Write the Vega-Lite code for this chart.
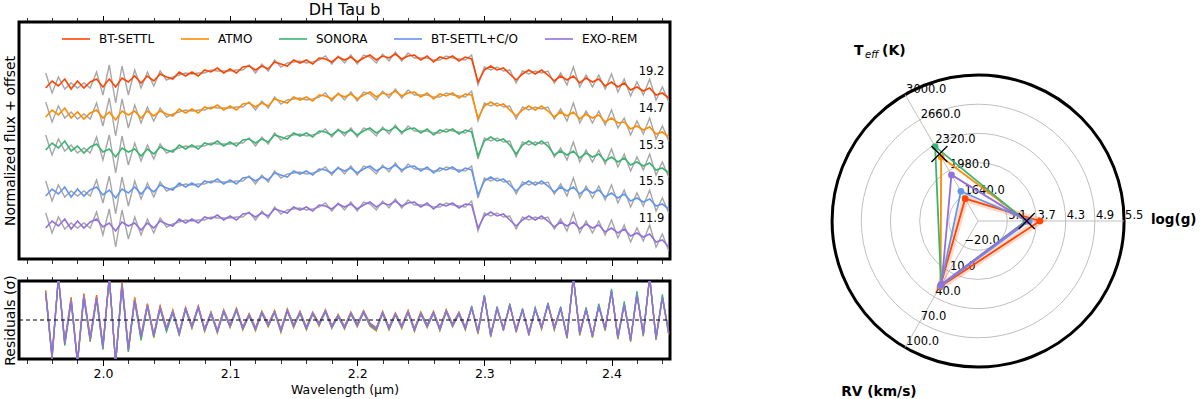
{
"$schema":"https://vega.github.io/schema/vega-lite/v6.json",
"padding":{"left":1,"top":0,"right":0,"bottom":0},
"config":{"font":"DejaVu Sans","view":{"stroke":"black","strokeWidth":3},
"axis":{"grid":false,"domain":false,"tickColor":"black","labelColor":"black","titleColor":"black","titleFontWeight":"normal","labelFont":"DejaVu Sans","titleFont":"DejaVu Sans"},
"text":{"color":"black","font":"DejaVu Sans"},"title":{"font":"DejaVu Sans","color":"black"}},
"datasets":{
"models":[{"k":"a","model":"BT-SETTL"},{"k":"b","model":"ATMO"},{"k":"c","model":"SONORA"},{"k":"d","model":"BT-SETTL+C/O"},{"k":"e","model":"EXO-REM"}],
"spec":[
{"w":1.955,"a":17.1,"b":14.2,"c":10.9,"d":6.3,"e":3.1,"ga":18.6,"gb":15.7,"gc":12.4,"gd":7.8,"ge":4.6},
{"w":1.96,"a":17.8,"b":14.9,"c":11.6,"d":7.0,"e":3.8,"ga":16.6,"gb":13.7,"gc":10.4,"gd":5.8,"ge":2.6},
{"w":1.965,"a":17.3,"b":14.4,"c":11.1,"d":6.5,"e":3.3,"ga":18.2,"gb":15.3,"gc":12.0,"gd":7.4,"ge":4.2},
{"w":1.97,"a":18.0,"b":15.1,"c":11.8,"d":7.2,"e":4.0,"ga":17.0,"gb":14.1,"gc":10.8,"gd":6.2,"ge":3.0},
{"w":1.975,"a":17.0,"b":14.1,"c":10.8,"d":6.2,"e":3.0,"ga":17.6,"gb":14.7,"gc":11.4,"gd":6.8,"ge":3.6},
{"w":1.98,"a":17.8,"b":14.7,"c":11.3,"d":7.0,"e":3.8,"ga":17.1,"gb":14.0,"gc":10.6,"gd":6.3,"ge":3.1},
{"w":1.985,"a":17.1,"b":14.0,"c":10.6,"d":6.3,"e":3.1,"ga":17.6,"gb":14.5,"gc":11.1,"gd":6.8,"ge":3.6},
{"w":1.99,"a":17.7,"b":14.6,"c":11.2,"d":6.9,"e":3.7,"ga":17.1,"gb":14.0,"gc":10.6,"gd":6.3,"ge":3.1},
{"w":1.995,"a":18.0,"b":14.9,"c":11.5,"d":7.2,"e":4.0,"ga":18.7,"gb":15.6,"gc":12.2,"gd":7.9,"ge":4.7},
{"w":2.0,"a":17.2,"b":14.1,"c":10.7,"d":6.4,"e":3.2,"ga":16.4,"gb":13.3,"gc":9.9,"gd":5.6,"ge":2.4},
{"w":2.005,"a":18.0,"b":14.7,"c":11.0,"d":6.9,"e":3.6,"ga":19.4,"gb":16.1,"gc":12.4,"gd":8.3,"ge":5.0},
{"w":2.01,"a":17.2,"b":13.9,"c":10.2,"d":6.1,"e":2.8,"ga":15.6,"gb":12.3,"gc":8.6,"gd":4.5,"ge":1.2},
{"w":2.015,"a":18.1,"b":14.8,"c":11.1,"d":7.0,"e":3.7,"ga":19.3,"gb":16.0,"gc":12.3,"gd":8.2,"ge":4.9},
{"w":2.02,"a":17.7,"b":14.4,"c":10.7,"d":6.6,"e":3.3,"ga":16.4,"gb":13.1,"gc":9.4,"gd":5.3,"ge":2.0},
{"w":2.025,"a":18.3,"b":14.8,"c":11.0,"d":7.2,"e":3.6,"ga":18.9,"gb":15.4,"gc":11.6,"gd":7.8,"ge":4.2},
{"w":2.03,"a":17.6,"b":14.1,"c":10.3,"d":6.5,"e":2.9,"ga":17.1,"gb":13.6,"gc":9.8,"gd":6.0,"ge":2.4},
{"w":2.035,"a":18.3,"b":14.8,"c":11.0,"d":7.2,"e":3.6,"ga":18.7,"gb":15.2,"gc":11.4,"gd":7.6,"ge":4.0},
{"w":2.04,"a":17.8,"b":14.3,"c":10.5,"d":6.7,"e":3.1,"ga":17.3,"gb":13.8,"gc":10.0,"gd":6.2,"ge":2.6},
{"w":2.045,"a":18.5,"b":14.8,"c":11.2,"d":7.4,"e":3.8,"ga":18.8,"gb":15.1,"gc":11.5,"gd":7.7,"ge":4.1},
{"w":2.05,"a":18.2,"b":14.5,"c":10.9,"d":7.1,"e":3.5,"ga":17.9,"gb":14.2,"gc":10.6,"gd":6.8,"ge":3.2},
{"w":2.055,"a":18.0,"b":14.3,"c":10.7,"d":6.9,"e":3.3,"ga":18.2,"gb":14.5,"gc":10.9,"gd":7.1,"ge":3.5},
{"w":2.06,"a":18.7,"b":15.0,"c":11.4,"d":7.6,"e":4.0,"ga":18.4,"gb":14.7,"gc":11.1,"gd":7.3,"ge":3.7},
{"w":2.065,"a":18.3,"b":14.6,"c":11.0,"d":7.2,"e":3.6,"ga":18.6,"gb":14.9,"gc":11.3,"gd":7.5,"ge":3.9},
{"w":2.07,"a":18.7,"b":15.0,"c":11.4,"d":7.6,"e":4.0,"ga":18.5,"gb":14.8,"gc":11.2,"gd":7.4,"ge":3.8},
{"w":2.075,"a":18.3,"b":14.6,"c":11.0,"d":7.2,"e":3.6,"ga":18.6,"gb":14.9,"gc":11.3,"gd":7.5,"ge":3.9},
{"w":2.08,"a":18.9,"b":15.2,"c":11.6,"d":7.8,"e":4.2,"ga":18.6,"gb":14.9,"gc":11.3,"gd":7.5,"ge":3.9},
{"w":2.085,"a":18.7,"b":15.0,"c":11.4,"d":7.6,"e":4.0,"ga":18.9,"gb":15.2,"gc":11.6,"gd":7.8,"ge":4.2},
{"w":2.09,"a":19.1,"b":15.4,"c":11.8,"d":8.0,"e":4.4,"ga":18.8,"gb":15.1,"gc":11.5,"gd":7.7,"ge":4.1},
{"w":2.095,"a":18.6,"b":14.9,"c":11.3,"d":7.5,"e":3.9,"ga":18.8,"gb":15.1,"gc":11.5,"gd":7.7,"ge":4.1},
{"w":2.1,"a":19.0,"b":15.3,"c":11.7,"d":7.9,"e":4.3,"ga":18.8,"gb":15.1,"gc":11.5,"gd":7.7,"ge":4.1},
{"w":2.105,"a":18.6,"b":14.9,"c":11.3,"d":7.5,"e":3.9,"ga":18.9,"gb":15.2,"gc":11.6,"gd":7.8,"ge":4.2},
{"w":2.11,"a":19.2,"b":15.5,"c":11.9,"d":8.1,"e":4.5,"ga":18.9,"gb":15.2,"gc":11.6,"gd":7.8,"ge":4.2},
{"w":2.115,"a":19.3,"b":15.6,"c":12.0,"d":8.2,"e":4.6,"ga":19.4,"gb":15.7,"gc":12.1,"gd":8.3,"ge":4.7},
{"w":2.12,"a":18.9,"b":15.2,"c":11.6,"d":7.8,"e":4.2,"ga":18.6,"gb":14.9,"gc":11.3,"gd":7.5,"ge":3.9},
{"w":2.125,"a":19.3,"b":15.6,"c":12.0,"d":8.2,"e":4.6,"ga":19.5,"gb":15.8,"gc":12.2,"gd":8.4,"ge":4.8},
{"w":2.13,"a":19.0,"b":15.3,"c":11.7,"d":7.9,"e":4.3,"ga":18.8,"gb":15.1,"gc":11.5,"gd":7.7,"ge":4.1},
{"w":2.135,"a":19.7,"b":16.0,"c":12.4,"d":8.6,"e":5.0,"ga":19.9,"gb":16.2,"gc":12.6,"gd":8.8,"ge":5.2},
{"w":2.14,"a":19.5,"b":15.8,"c":12.2,"d":8.4,"e":4.8,"ga":19.2,"gb":15.5,"gc":11.9,"gd":8.1,"ge":4.5},
{"w":2.145,"a":19.3,"b":15.6,"c":12.0,"d":8.2,"e":4.6,"ga":19.6,"gb":15.9,"gc":12.3,"gd":8.5,"ge":4.9},
{"w":2.15,"a":19.9,"b":16.2,"c":12.6,"d":8.8,"e":5.2,"ga":19.7,"gb":16.0,"gc":12.4,"gd":8.6,"ge":5.0},
{"w":2.155,"a":19.6,"b":15.9,"c":12.3,"d":8.5,"e":4.9,"ga":19.8,"gb":16.1,"gc":12.5,"gd":8.7,"ge":5.1},
{"w":2.16,"a":19.9,"b":16.2,"c":12.6,"d":8.8,"e":5.2,"ga":19.6,"gb":15.9,"gc":12.3,"gd":8.5,"ge":4.9},
{"w":2.165,"a":19.5,"b":15.8,"c":12.2,"d":8.4,"e":4.8,"ga":19.7,"gb":16.0,"gc":12.4,"gd":8.6,"ge":5.0},
{"w":2.17,"a":20.1,"b":16.4,"c":12.8,"d":9.0,"e":5.4,"ga":19.9,"gb":16.2,"gc":12.6,"gd":8.8,"ge":5.2},
{"w":2.175,"a":20.0,"b":16.3,"c":12.7,"d":8.9,"e":5.3,"ga":20.3,"gb":16.6,"gc":13.0,"gd":9.2,"ge":5.6},
{"w":2.18,"a":19.7,"b":16.0,"c":12.4,"d":8.6,"e":5.0,"ga":19.5,"gb":15.8,"gc":12.2,"gd":8.4,"ge":4.8},
{"w":2.185,"a":20.2,"b":16.5,"c":12.9,"d":9.1,"e":5.5,"ga":20.3,"gb":16.6,"gc":13.0,"gd":9.2,"ge":5.6},
{"w":2.19,"a":19.9,"b":16.2,"c":12.6,"d":8.8,"e":5.2,"ga":19.6,"gb":15.9,"gc":12.3,"gd":8.5,"ge":4.9},
{"w":2.195,"a":20.2,"b":16.5,"c":12.9,"d":9.1,"e":5.5,"ga":20.4,"gb":16.7,"gc":13.1,"gd":9.3,"ge":5.7},
{"w":2.2,"a":19.7,"b":16.0,"c":12.4,"d":8.6,"e":5.0,"ga":19.5,"gb":15.8,"gc":12.2,"gd":8.4,"ge":4.8},
{"w":2.205,"a":20.1,"b":16.4,"c":12.8,"d":9.0,"e":5.4,"ga":20.4,"gb":16.7,"gc":13.1,"gd":9.3,"ge":5.7},
{"w":2.21,"a":20.4,"b":16.7,"c":13.1,"d":9.3,"e":5.7,"ga":20.2,"gb":16.5,"gc":12.9,"gd":9.1,"ge":5.5},
{"w":2.215,"a":19.9,"b":16.2,"c":12.6,"d":8.8,"e":5.2,"ga":19.6,"gb":15.9,"gc":12.3,"gd":8.5,"ge":4.9},
{"w":2.22,"a":20.3,"b":16.6,"c":13.0,"d":9.2,"e":5.6,"ga":20.5,"gb":16.8,"gc":13.2,"gd":9.4,"ge":5.8},
{"w":2.225,"a":20.1,"b":16.4,"c":12.8,"d":9.0,"e":5.4,"ga":19.8,"gb":16.1,"gc":12.5,"gd":8.7,"ge":5.1},
{"w":2.23,"a":20.5,"b":16.8,"c":13.2,"d":9.4,"e":5.8,"ga":20.7,"gb":17.0,"gc":13.4,"gd":9.6,"ge":6.0},
{"w":2.235,"a":20.0,"b":16.3,"c":12.7,"d":8.9,"e":5.3,"ga":19.8,"gb":16.1,"gc":12.5,"gd":8.7,"ge":5.1},
{"w":2.24,"a":20.3,"b":16.6,"c":13.0,"d":9.2,"e":5.6,"ga":20.6,"gb":16.9,"gc":13.3,"gd":9.5,"ge":5.9},
{"w":2.245,"a":20.4,"b":16.7,"c":13.1,"d":9.3,"e":5.7,"ga":20.1,"gb":16.4,"gc":12.8,"gd":9.0,"ge":5.4},
{"w":2.25,"a":19.9,"b":16.2,"c":12.6,"d":8.8,"e":5.2,"ga":20.1,"gb":16.4,"gc":12.8,"gd":9.0,"ge":5.4},
{"w":2.255,"a":20.3,"b":16.6,"c":13.0,"d":9.2,"e":5.6,"ga":20.1,"gb":16.4,"gc":12.8,"gd":9.0,"ge":5.4},
{"w":2.26,"a":19.7,"b":16.0,"c":12.4,"d":8.6,"e":5.0,"ga":19.9,"gb":16.2,"gc":12.6,"gd":8.8,"ge":5.2},
{"w":2.265,"a":20.2,"b":16.5,"c":12.9,"d":9.1,"e":5.5,"ga":19.9,"gb":16.2,"gc":12.6,"gd":8.8,"ge":5.2},
{"w":2.27,"a":20.0,"b":16.3,"c":12.7,"d":8.9,"e":5.3,"ga":20.3,"gb":16.6,"gc":13.0,"gd":9.2,"ge":5.6},
{"w":2.275,"a":20.3,"b":16.6,"c":13.0,"d":9.2,"e":5.6,"ga":20.1,"gb":16.4,"gc":12.8,"gd":9.0,"ge":5.4},
{"w":2.28,"a":19.8,"b":16.1,"c":12.5,"d":8.7,"e":5.1,"ga":20.0,"gb":16.3,"gc":12.7,"gd":8.9,"ge":5.3},
{"w":2.285,"a":20.2,"b":16.5,"c":12.9,"d":9.1,"e":5.5,"ga":19.9,"gb":16.2,"gc":12.6,"gd":8.8,"ge":5.2},
{"w":2.29,"a":20.0,"b":16.4,"c":12.7,"d":8.9,"e":5.4,"ga":20.4,"gb":16.8,"gc":13.1,"gd":9.3,"ge":5.8},
{"w":2.295,"a":17.7,"b":14.1,"c":10.3,"d":6.4,"e":3.1,"ga":17.4,"gb":13.8,"gc":10.0,"gd":6.1,"ge":2.8},
{"w":2.3,"a":18.9,"b":15.3,"c":11.8,"d":7.8,"e":4.3,"ga":19.2,"gb":15.6,"gc":12.1,"gd":8.1,"ge":4.6},
{"w":2.305,"a":19.3,"b":15.7,"c":12.2,"d":8.2,"e":4.7,"ga":18.9,"gb":15.3,"gc":11.8,"gd":7.8,"ge":4.3},
{"w":2.31,"a":18.9,"b":15.3,"c":11.8,"d":7.8,"e":4.3,"ga":19.2,"gb":15.6,"gc":12.1,"gd":8.1,"ge":4.6},
{"w":2.315,"a":19.1,"b":15.5,"c":12.0,"d":8.0,"e":4.5,"ga":18.8,"gb":15.2,"gc":11.7,"gd":7.7,"ge":4.2},
{"w":2.32,"a":18.5,"b":14.9,"c":11.4,"d":7.4,"e":3.9,"ga":18.9,"gb":15.3,"gc":11.8,"gd":7.8,"ge":4.3},
{"w":2.325,"a":17.9,"b":14.3,"c":10.5,"d":6.8,"e":3.3,"ga":17.6,"gb":14.0,"gc":10.2,"gd":6.5,"ge":3.0},
{"w":2.33,"a":18.5,"b":14.9,"c":11.4,"d":7.4,"e":3.9,"ga":18.8,"gb":15.2,"gc":11.7,"gd":7.7,"ge":4.2},
{"w":2.335,"a":18.9,"b":15.3,"c":11.8,"d":7.8,"e":4.3,"ga":18.5,"gb":14.9,"gc":11.4,"gd":7.4,"ge":3.9},
{"w":2.34,"a":18.5,"b":14.9,"c":11.4,"d":7.4,"e":3.9,"ga":18.8,"gb":15.2,"gc":11.7,"gd":7.7,"ge":4.2},
{"w":2.345,"a":18.9,"b":15.3,"c":11.8,"d":7.8,"e":4.3,"ga":18.6,"gb":15.0,"gc":11.5,"gd":7.5,"ge":4.0},
{"w":2.35,"a":18.4,"b":14.8,"c":11.3,"d":7.3,"e":3.8,"ga":18.8,"gb":15.2,"gc":11.7,"gd":7.7,"ge":4.2},
{"w":2.355,"a":17.8,"b":14.2,"c":10.4,"d":6.7,"e":3.2,"ga":17.6,"gb":14.0,"gc":10.2,"gd":6.5,"ge":3.0},
{"w":2.36,"a":18.3,"b":14.7,"c":10.8,"d":7.2,"e":3.7,"ga":18.6,"gb":15.0,"gc":11.1,"gd":7.5,"ge":4.0},
{"w":2.365,"a":17.9,"b":14.3,"c":10.4,"d":6.8,"e":3.3,"ga":17.4,"gb":13.8,"gc":9.9,"gd":6.3,"ge":2.8},
{"w":2.37,"a":18.3,"b":14.7,"c":10.8,"d":7.2,"e":3.7,"ga":19.2,"gb":15.6,"gc":11.7,"gd":8.1,"ge":4.6},
{"w":2.375,"a":17.6,"b":14.0,"c":10.1,"d":6.5,"e":3.0,"ga":17.2,"gb":13.6,"gc":9.7,"gd":6.1,"ge":2.6},
{"w":2.38,"a":18.1,"b":14.5,"c":10.6,"d":7.0,"e":3.5,"ga":18.4,"gb":14.8,"gc":10.9,"gd":7.3,"ge":3.8},
{"w":2.385,"a":17.7,"b":14.1,"c":10.2,"d":6.6,"e":3.1,"ga":17.2,"gb":13.6,"gc":9.7,"gd":6.1,"ge":2.6},
{"w":2.39,"a":18.0,"b":14.4,"c":10.5,"d":6.9,"e":3.4,"ga":18.4,"gb":14.8,"gc":10.9,"gd":7.3,"ge":3.8},
{"w":2.395,"a":17.3,"b":13.7,"c":9.8,"d":6.2,"e":2.7,"ga":17.0,"gb":13.4,"gc":9.5,"gd":5.9,"ge":2.4},
{"w":2.4,"a":17.7,"b":14.1,"c":10.2,"d":6.6,"e":3.1,"ga":18.5,"gb":14.9,"gc":11.0,"gd":7.4,"ge":3.9},
{"w":2.405,"a":17.2,"b":13.6,"c":9.7,"d":6.1,"e":2.6,"ga":16.7,"gb":13.1,"gc":9.2,"gd":5.6,"ge":2.1},
{"w":2.41,"a":17.6,"b":13.7,"c":10.1,"d":6.5,"e":3.0,"ga":18.0,"gb":14.1,"gc":10.5,"gd":6.9,"ge":3.4},
{"w":2.415,"a":16.9,"b":13.0,"c":9.4,"d":5.8,"e":2.3,"ga":16.3,"gb":12.4,"gc":8.8,"gd":5.2,"ge":1.7},
{"w":2.42,"a":17.2,"b":13.3,"c":9.7,"d":6.1,"e":2.6,"ga":17.7,"gb":13.8,"gc":10.2,"gd":6.6,"ge":3.1},
{"w":2.425,"a":16.8,"b":12.9,"c":9.3,"d":5.7,"e":2.2,"ga":16.4,"gb":12.5,"gc":8.9,"gd":5.3,"ge":1.8},
{"w":2.43,"a":17.1,"b":13.2,"c":9.6,"d":6.0,"e":2.5,"ga":18.0,"gb":14.1,"gc":10.5,"gd":6.9,"ge":3.4},
{"w":2.435,"a":16.4,"b":12.5,"c":8.9,"d":5.3,"e":1.7,"ga":15.9,"gb":12.0,"gc":8.4,"gd":4.8,"ge":1.2},
{"w":2.44,"a":16.6,"b":12.7,"c":9.1,"d":5.5,"e":1.9,"ga":17.2,"gb":13.3,"gc":9.7,"gd":6.1,"ge":2.5},
{"w":2.445,"a":16.1,"b":12.2,"c":8.6,"d":5.0,"e":1.2,"ga":15.7,"gb":11.8,"gc":8.2,"gd":4.6,"ge":0.8}
],
"res":[
{"w":1.955,"a":3.8,"b":3.6,"c":3.3,"d":3.4,"e":3.5},
{"w":1.96,"a":-4.5,"b":-5.0,"c":-4.9,"d":-4.7,"e":-4.8},
{"w":1.965,"a":5.5,"b":5.5,"c":5.5,"d":5.5,"e":5.5},
{"w":1.97,"a":-2.7,"b":-3.2,"c":-3.3,"d":-2.9,"e":-3.0},
{"w":1.975,"a":2.9,"b":2.7,"c":2.3,"d":2.6,"e":2.5},
{"w":1.98,"a":-5.2,"b":-5.5,"c":-5.5,"d":-5.4,"e":-5.5},
{"w":1.985,"a":3.4,"b":3.2,"c":2.8,"d":3.1,"e":3.0},
{"w":1.99,"a":-2.2,"b":-2.8,"c":-2.7,"d":-2.4,"e":-2.5},
{"w":1.995,"a":3.2,"b":3.0,"c":2.6,"d":2.9,"e":2.8},
{"w":2.0,"a":-3.2,"b":-3.7,"c":-3.8,"d":-3.4,"e":-3.5},
{"w":2.005,"a":5.5,"b":5.5,"c":5.5,"d":5.5,"e":5.5},
{"w":2.01,"a":-5.5,"b":-5.5,"c":-5.5,"d":-5.5,"e":-5.5},
{"w":2.015,"a":4.9,"b":4.7,"c":4.3,"d":4.6,"e":4.5},
{"w":2.02,"a":-3.5,"b":-4.0,"c":-4.1,"d":-3.7,"e":-3.8},
{"w":2.025,"a":2.9,"b":2.8,"c":2.4,"d":2.6,"e":2.5},
{"w":2.03,"a":-2.0,"b":-2.5,"c":-2.6,"d":-2.1,"e":-2.2},
{"w":2.035,"a":2.1,"b":2.0,"c":1.7,"d":1.9,"e":1.8},
{"w":2.04,"a":-1.8,"b":-2.3,"c":-2.2,"d":-1.9,"e":-2.0},
{"w":2.045,"a":1.8,"b":1.7,"c":1.4,"d":1.6,"e":1.5},
{"w":2.05,"a":-1.0,"b":-1.4,"c":-1.5,"d":-1.1,"e":-1.2},
{"w":2.055,"a":1.2,"b":1.3,"c":0.9,"d":1.1,"e":1.0},
{"w":2.06,"a":-1.6,"b":-2.0,"c":-1.9,"d":-1.7,"e":-1.8},
{"w":2.065,"a":1.6,"b":1.6,"c":1.3,"d":1.5,"e":1.4},
{"w":2.07,"a":-0.7,"b":-1.1,"c":-1.0,"d":-0.8,"e":-0.9},
{"w":2.075,"a":1.8,"b":1.8,"c":1.5,"d":1.7,"e":1.6},
{"w":2.08,"a":-1.1,"b":-1.5,"c":-1.4,"d":-1.2,"e":-1.3},
{"w":2.085,"a":1.0,"b":1.0,"c":0.7,"d":0.9,"e":0.8},
{"w":2.09,"a":-1.3,"b":-1.7,"c":-1.6,"d":-1.4,"e":-1.5},
{"w":2.095,"a":1.3,"b":1.3,"c":1.0,"d":1.2,"e":1.1},
{"w":2.1,"a":-0.6,"b":-1.0,"c":-0.9,"d":-0.7,"e":-0.8},
{"w":2.105,"a":1.5,"b":1.5,"c":1.2,"d":1.4,"e":1.3},
{"w":2.11,"a":-0.9,"b":-1.3,"c":-1.2,"d":-1.0,"e":-1.1},
{"w":2.115,"a":0.8,"b":0.8,"c":0.5,"d":0.7,"e":0.6},
{"w":2.12,"a":-1.0,"b":-1.4,"c":-1.3,"d":-1.1,"e":-1.2},
{"w":2.125,"a":1.1,"b":1.1,"c":0.8,"d":1.0,"e":0.9},
{"w":2.13,"a":-0.5,"b":-0.9,"c":-0.8,"d":-0.6,"e":-0.7},
{"w":2.135,"a":1.2,"b":1.2,"c":0.9,"d":1.1,"e":1.0},
{"w":2.14,"a":-1.2,"b":-1.6,"c":-1.5,"d":-1.3,"e":-1.4},
{"w":2.145,"a":1.4,"b":1.4,"c":1.1,"d":1.3,"e":1.2},
{"w":2.15,"a":-0.6,"b":-1.0,"c":-0.9,"d":-0.7,"e":-0.8},
{"w":2.155,"a":1.1,"b":1.1,"c":0.8,"d":1.0,"e":0.9},
{"w":2.16,"a":-0.9,"b":-1.3,"c":-1.2,"d":-1.0,"e":-1.1},
{"w":2.165,"a":1.0,"b":1.0,"c":0.7,"d":0.9,"e":0.8},
{"w":2.17,"a":-0.4,"b":-0.8,"c":-0.7,"d":-0.5,"e":-0.6},
{"w":2.175,"a":1.3,"b":1.3,"c":1.0,"d":1.2,"e":1.1},
{"w":2.18,"a":-0.7,"b":-1.1,"c":-1.0,"d":-0.8,"e":-0.9},
{"w":2.185,"a":0.7,"b":0.7,"c":0.4,"d":0.6,"e":0.5},
{"w":2.19,"a":-0.8,"b":-1.2,"c":-1.1,"d":-0.9,"e":-1.0},
{"w":2.195,"a":1.0,"b":1.0,"c":0.7,"d":0.9,"e":0.8},
{"w":2.2,"a":-0.5,"b":-0.9,"c":-0.8,"d":-0.6,"e":-0.7},
{"w":2.205,"a":1.2,"b":1.2,"c":0.9,"d":1.1,"e":1.0},
{"w":2.21,"a":-0.4,"b":-0.8,"c":-0.7,"d":-0.5,"e":-0.6},
{"w":2.215,"a":-1.0,"b":-1.4,"c":-1.3,"d":-1.1,"e":-1.2},
{"w":2.22,"a":1.1,"b":1.1,"c":0.8,"d":1.0,"e":0.9},
{"w":2.225,"a":-0.9,"b":-1.3,"c":-1.2,"d":-1.0,"e":-1.1},
{"w":2.23,"a":0.9,"b":0.9,"c":0.6,"d":0.8,"e":0.7},
{"w":2.235,"a":-0.7,"b":-1.1,"c":-1.0,"d":-0.8,"e":-0.9},
{"w":2.24,"a":1.2,"b":1.2,"c":0.9,"d":1.1,"e":1.0},
{"w":2.245,"a":-1.1,"b":-1.5,"c":-1.4,"d":-1.2,"e":-1.3},
{"w":2.25,"a":1.0,"b":1.0,"c":0.7,"d":0.9,"e":0.8},
{"w":2.255,"a":-0.6,"b":-1.0,"c":-0.9,"d":-0.7,"e":-0.8},
{"w":2.26,"a":1.1,"b":1.1,"c":0.8,"d":1.0,"e":0.9},
{"w":2.265,"a":-1.0,"b":-1.4,"c":-1.3,"d":-1.1,"e":-1.2},
{"w":2.27,"a":1.3,"b":1.3,"c":1.0,"d":1.2,"e":1.1},
{"w":2.275,"a":-0.5,"b":-0.9,"c":-0.8,"d":-0.6,"e":-0.7},
{"w":2.28,"a":1.0,"b":1.0,"c":0.7,"d":0.9,"e":0.8},
{"w":2.285,"a":-0.9,"b":-1.3,"c":-1.2,"d":-1.0,"e":-1.1},
{"w":2.29,"a":1.6,"b":1.7,"c":1.8,"d":1.6,"e":1.5},
{"w":2.295,"a":-1.4,"b":-1.8,"c":-1.7,"d":-1.5,"e":-1.6},
{"w":2.3,"a":3.0,"b":3.1,"c":3.2,"d":3.1,"e":3.0},
{"w":2.305,"a":-1.8,"b":-2.2,"c":-2.1,"d":-1.9,"e":-2.0},
{"w":2.31,"a":1.5,"b":1.6,"c":1.7,"d":1.5,"e":1.4},
{"w":2.315,"a":-1.0,"b":-1.4,"c":-1.3,"d":-1.1,"e":-1.2},
{"w":2.32,"a":1.9,"b":2.0,"c":2.1,"d":1.9,"e":1.8},
{"w":2.325,"a":-1.2,"b":-1.6,"c":-1.5,"d":-1.3,"e":-1.4},
{"w":2.33,"a":1.3,"b":1.4,"c":1.5,"d":1.3,"e":1.2},
{"w":2.335,"a":-1.6,"b":-2.0,"c":-1.9,"d":-1.7,"e":-1.8},
{"w":2.34,"a":1.4,"b":1.5,"c":1.6,"d":1.4,"e":1.3},
{"w":2.345,"a":-0.8,"b":-1.2,"c":-1.1,"d":-0.9,"e":-1.0},
{"w":2.35,"a":2.0,"b":2.1,"c":2.2,"d":2.0,"e":1.9},
{"w":2.355,"a":-0.9,"b":-1.3,"c":-1.2,"d":-1.0,"e":-1.1},
{"w":2.36,"a":1.5,"b":1.6,"c":1.7,"d":1.5,"e":1.4},
{"w":2.365,"a":-2.0,"b":-2.4,"c":-2.3,"d":-2.1,"e":-2.2},
{"w":2.37,"a":5.5,"b":5.5,"c":5.5,"d":5.5,"e":5.5},
{"w":2.375,"a":-1.6,"b":-2.0,"c":-1.9,"d":-1.7,"e":-1.8},
{"w":2.38,"a":1.4,"b":1.5,"c":1.6,"d":1.4,"e":1.3},
{"w":2.385,"a":-1.9,"b":-2.3,"c":-2.2,"d":-2.0,"e":-2.1},
{"w":2.39,"a":1.8,"b":1.9,"c":2.1,"d":1.8,"e":1.7},
{"w":2.395,"a":-1.0,"b":-1.4,"c":-1.3,"d":-1.1,"e":-1.2},
{"w":2.4,"a":3.7,"b":3.8,"c":4.0,"d":3.7,"e":3.6},
{"w":2.405,"a":-2.1,"b":-2.5,"c":-2.4,"d":-2.2,"e":-2.3},
{"w":2.41,"a":2.0,"b":2.1,"c":2.4,"d":2.0,"e":1.9},
{"w":2.415,"a":-2.4,"b":-2.8,"c":-2.7,"d":-2.5,"e":-2.6},
{"w":2.42,"a":3.3,"b":3.4,"c":3.7,"d":3.3,"e":3.2},
{"w":2.425,"a":-1.7,"b":-2.1,"c":-2.0,"d":-1.8,"e":-1.9},
{"w":2.43,"a":5.5,"b":5.5,"c":5.5,"d":5.5,"e":5.5},
{"w":2.435,"a":-2.2,"b":-2.6,"c":-2.5,"d":-2.3,"e":-2.4},
{"w":2.44,"a":2.9,"b":3.0,"c":3.3,"d":2.9,"e":2.8},
{"w":2.445,"a":-1.5,"b":-1.9,"c":-1.8,"d":-1.6,"e":-1.7}
],
"raxes":[{"axis":"Teff","ang":120,"c0":1300,"st":340},{"axis":"logg","ang":0,"c0":2.5,"st":0.6},{"axis":"RV","ang":240,"c0":-50,"st":30}],
"rvals":[
{"model":"BT-SETTL","axis":"Teff","v":1600,"o":1},{"model":"BT-SETTL","axis":"logg","v":3.77,"o":2},{"model":"BT-SETTL","axis":"RV","v":28,"o":3},
{"model":"ATMO","axis":"Teff","v":2160,"o":1},{"model":"ATMO","axis":"logg","v":3.5,"o":2},{"model":"ATMO","axis":"RV","v":27,"o":3},
{"model":"SONORA","axis":"Teff","v":2300,"o":1},{"model":"SONORA","axis":"logg","v":3.48,"o":2},{"model":"SONORA","axis":"RV","v":26,"o":3},
{"model":"BT-SETTL+C/O","axis":"Teff","v":1700,"o":1},{"model":"BT-SETTL+C/O","axis":"logg","v":3.55,"o":2},{"model":"BT-SETTL+C/O","axis":"RV","v":27,"o":3},
{"model":"EXO-REM","axis":"Teff","v":1920,"o":1},{"model":"EXO-REM","axis":"logg","v":3.5,"o":2},{"model":"EXO-REM","axis":"RV","v":25,"o":3}
],
"rticks":[
{"axis":"Teff","v":1640},{"axis":"Teff","v":1980},{"axis":"Teff","v":2320},{"axis":"Teff","v":2660},{"axis":"Teff","v":3000},
{"axis":"logg","v":3.1},{"axis":"logg","v":3.7},{"axis":"logg","v":4.3},{"axis":"logg","v":4.9},{"axis":"logg","v":5.5},
{"axis":"RV","v":-20},{"axis":"RV","v":10},{"axis":"RV","v":40},{"axis":"RV","v":70},{"axis":"RV","v":100}
],
"rlit":[{"axis":"Teff","v":2200},{"axis":"logg","v":3.5}]
},
"hconcat":[
{"vconcat":[
{"width":651,"height":237,
"title":{"text":"DH Tau b","fontSize":16,"fontWeight":"normal","offset":-3},
"data":{"name":"spec"},
"layer":[
{"transform":[{"fold":["ga","gb","gc","gd","ge"],"as":["g","f"]}],
"mark":{"type":"line","color":"#a6a6a6","strokeWidth":1.4},
"encoding":{
"x":{"field":"w","type":"quantitative","scale":{"domain":[1.934,2.446],"nice":false,"zero":false},
"axis":{"orient":"bottom","values":[2.0,2.1,2.2,2.3,2.4],"tickSize":6.5,"tickWidth":1,"labels":false,"title":null}},
"y":{"field":"f","type":"quantitative","scale":{"domain":[0,23.7],"nice":false,"zero":false},"axis":null},
"detail":{"field":"g","type":"nominal"}}},
{"transform":[{"fold":["a","b","c","d","e"],"as":["k","f"]},{"lookup":"k","from":{"data":{"name":"models"},"key":"k","fields":["model"]}}],
"mark":{"type":"line","strokeWidth":1.6},
"encoding":{
"x":{"field":"w","type":"quantitative","scale":{"domain":[1.934,2.446],"nice":false,"zero":false},
"axis":{"orient":"top","values":[2.0,2.1,2.2,2.3,2.4],"tickSize":6.5,"tickWidth":1,"labels":false,"title":null}},
"y":{"field":"f","type":"quantitative","scale":{"domain":[0,23.7],"nice":false,"zero":false},
"axis":{"orient":"left","title":"Normalized flux + offset","labels":false,"ticks":false,"titleFontSize":14,"titlePadding":2}},
"color":{"field":"model","type":"nominal","scale":{"domain":["BT-SETTL","ATMO","SONORA","BT-SETTL+C/O","EXO-REM"],"range":["#FF4500","#FF8C00","#3CB371","#6495ED","#9370DB"]},
"legend":{"orient":"none","legendX":42,"legendY":2,"direction":"horizontal","title":null,"symbolType":"stroke","symbolSize":784,"symbolStrokeWidth":1.6,"labelFontSize":12,"labelOffset":8,"columnPadding":22,"padding":0,"labelColor":"black"}}}},
{"data":{"values":[{}]},"mark":{"type":"text","align":"right","baseline":"middle","fontSize":11.5},
"encoding":{"x":{"datum":2.4415,"type":"quantitative","scale":{"domain":[1.934,2.446],"nice":false,"zero":false},
"axis":{"orient":"bottom","values":[1.94,1.96,1.98,2.02,2.04,2.06,2.08,2.12,2.14,2.16,2.18,2.22,2.24,2.26,2.28,2.32,2.34,2.36,2.38,2.42,2.44],"tickSize":4.5,"tickWidth":0.8,"labels":false,"title":null}},
"y":{"datum":18.7,"type":"quantitative","scale":{"domain":[0,23.7],"nice":false,"zero":false},"axis":null},"text":{"value":"19.2"}}},
{"data":{"values":[{}]},"mark":{"type":"text","align":"right","baseline":"middle","fontSize":11.5},
"encoding":{"x":{"datum":2.4415,"type":"quantitative","scale":{"domain":[1.934,2.446],"nice":false,"zero":false},
"axis":{"orient":"top","values":[1.94,1.96,1.98,2.02,2.04,2.06,2.08,2.12,2.14,2.16,2.18,2.22,2.24,2.26,2.28,2.32,2.34,2.36,2.38,2.42,2.44],"tickSize":4.5,"tickWidth":0.8,"labels":false,"title":null}},
"y":{"datum":15.0,"type":"quantitative","scale":{"domain":[0,23.7],"nice":false,"zero":false},"axis":null},"text":{"value":"14.7"}}},
{"data":{"values":[{}]},"mark":{"type":"text","align":"right","baseline":"middle","fontSize":11.5},
"encoding":{"x":{"datum":2.4415,"type":"quantitative","scale":{"domain":[1.934,2.446],"nice":false,"zero":false},"axis":null},
"y":{"datum":11.3,"type":"quantitative","scale":{"domain":[0,23.7],"nice":false,"zero":false},"axis":null},"text":{"value":"15.3"}}},
{"data":{"values":[{}]},"mark":{"type":"text","align":"right","baseline":"middle","fontSize":11.5},
"encoding":{"x":{"datum":2.4415,"type":"quantitative","scale":{"domain":[1.934,2.446],"nice":false,"zero":false},"axis":null},
"y":{"datum":7.7,"type":"quantitative","scale":{"domain":[0,23.7],"nice":false,"zero":false},"axis":null},"text":{"value":"15.5"}}},
{"data":{"values":[{}]},"mark":{"type":"text","align":"right","baseline":"middle","fontSize":11.5},
"encoding":{"x":{"datum":2.4415,"type":"quantitative","scale":{"domain":[1.934,2.446],"nice":false,"zero":false},"axis":null},
"y":{"datum":4.0,"type":"quantitative","scale":{"domain":[0,23.7],"nice":false,"zero":false},"axis":null},"text":{"value":"11.9"}}}
],
"resolve":{"axis":{"x":"independent","y":"independent"}}},
{"width":651,"height":78,
"data":{"name":"res"},
"layer":[
{"transform":[{"fold":["a","b"],"as":["k","f"]},{"lookup":"k","from":{"data":{"name":"models"},"key":"k","fields":["model"]}}],
"mark":{"type":"line","strokeWidth":1.3,"clip":true},
"encoding":{
"x":{"field":"w","type":"quantitative","scale":{"domain":[1.934,2.446],"nice":false,"zero":false},
"axis":{"orient":"bottom","values":[2.0,2.1,2.2,2.3,2.4],"tickSize":6.5,"tickWidth":1,"format":".1f","labelFontSize":12.5,"labelPadding":2,"title":"Wavelength (μm)","titleFontSize":12.5,"titlePadding":3}},
"y":{"field":"f","type":"quantitative","scale":{"domain":[-5,5],"nice":false,"zero":false},
"axis":{"orient":"left","title":"Residuals (σ)","labels":false,"ticks":false,"titleFontSize":14,"titlePadding":2}},
"color":{"field":"model","type":"nominal","scale":{"domain":["BT-SETTL","ATMO","SONORA","BT-SETTL+C/O","EXO-REM"],"range":["#FF4500","#FF8C00","#3CB371","#6495ED","#9370DB"]},"legend":null}}},
{"transform":[{"fold":["c","d"],"as":["k","f"]},{"lookup":"k","from":{"data":{"name":"models"},"key":"k","fields":["model"]}}],
"mark":{"type":"line","strokeWidth":1.3,"clip":true},
"encoding":{
"x":{"field":"w","type":"quantitative","scale":{"domain":[1.934,2.446],"nice":false,"zero":false},
"axis":{"orient":"bottom","values":[1.94,1.96,1.98,2.02,2.04,2.06,2.08,2.12,2.14,2.16,2.18,2.22,2.24,2.26,2.28,2.32,2.34,2.36,2.38,2.42,2.44],"tickSize":4.5,"tickWidth":0.8,"labels":false,"title":null}},
"y":{"field":"f","type":"quantitative","scale":{"domain":[-5,5],"nice":false,"zero":false},"axis":null},
"color":{"field":"model","type":"nominal","scale":{"domain":["BT-SETTL","ATMO","SONORA","BT-SETTL+C/O","EXO-REM"],"range":["#FF4500","#FF8C00","#3CB371","#6495ED","#9370DB"]},"legend":null}}},
{"transform":[{"fold":["e"],"as":["k","f"]},{"lookup":"k","from":{"data":{"name":"models"},"key":"k","fields":["model"]}}],
"mark":{"type":"line","strokeWidth":1.3,"clip":true},
"encoding":{
"x":{"field":"w","type":"quantitative","scale":{"domain":[1.934,2.446],"nice":false,"zero":false},
"axis":{"orient":"top","values":[2.0,2.1,2.2,2.3,2.4],"tickSize":6.5,"tickWidth":1,"labels":false,"title":null}},
"y":{"field":"f","type":"quantitative","scale":{"domain":[-5,5],"nice":false,"zero":false},"axis":null},
"color":{"field":"model","type":"nominal","scale":{"domain":["BT-SETTL","ATMO","SONORA","BT-SETTL+C/O","EXO-REM"],"range":["#FF4500","#FF8C00","#3CB371","#6495ED","#9370DB"]},"legend":null}}},
{"data":{"values":[{"lo":1.934,"hi":2.446}]},"mark":{"type":"rule","color":"black","strokeDash":[4,3],"strokeWidth":1.2},
"encoding":{
"x":{"field":"lo","type":"quantitative","scale":{"domain":[1.934,2.446],"nice":false,"zero":false},
"axis":{"orient":"top","values":[1.94,1.96,1.98,2.02,2.04,2.06,2.08,2.12,2.14,2.16,2.18,2.22,2.24,2.26,2.28,2.32,2.34,2.36,2.38,2.42,2.44],"tickSize":4.5,"tickWidth":0.8,"labels":false,"title":null}},
"x2":{"field":"hi"},
"y":{"datum":0,"type":"quantitative","scale":{"domain":[-5,5],"nice":false,"zero":false},"axis":null}}}
],
"resolve":{"axis":{"x":"independent","y":"independent"}}}
],
"spacing":4,
"resolve":{"scale":{"color":"independent"}}},
{"width":341.64,"height":377.12,
"view":{"stroke":null},
"layer":[
{"data":{"values":[{"ring":1},{"ring":2},{"ring":3},{"ring":4}]},
"mark":{"type":"arc","theta":0,"theta2":6.2832,"filled":false,"color":"#b8b8b8","strokeWidth":0.9},
"encoding":{"x":{"datum":0,"type":"quantitative","scale":{"domain":[-4.9,6.8],"nice":false,"zero":false},"axis":null},
"y":{"datum":0,"type":"quantitative","scale":{"domain":[-6.1,6.815],"nice":false,"zero":false},"axis":null},
"radius":{"field":"ring","type":"quantitative","stack":null,"scale":{"type":"linear","domain":[0,5],"range":[0,146]}}}},
{"data":{"values":[{"ring":5}]},
"mark":{"type":"arc","theta":0,"theta2":6.2832,"filled":false,"color":"black","strokeWidth":3},
"encoding":{"x":{"datum":0,"type":"quantitative","scale":{"domain":[-4.9,6.8],"nice":false,"zero":false},"axis":null},
"y":{"datum":0,"type":"quantitative","scale":{"domain":[-6.1,6.815],"nice":false,"zero":false},"axis":null},
"radius":{"field":"ring","type":"quantitative","stack":null,"scale":{"type":"linear","domain":[0,5],"range":[0,146]}}}},
{"data":{"name":"raxes"},
"transform":[{"calculate":"5*cos(datum.ang*PI/180)","as":"ex"},{"calculate":"5*sin(datum.ang*PI/180)","as":"ey"}],
"mark":{"type":"rule","color":"#b8b8b8","strokeWidth":0.9},
"encoding":{"x":{"field":"ex","type":"quantitative","scale":{"domain":[-4.9,6.8],"nice":false,"zero":false},"axis":null},
"y":{"field":"ey","type":"quantitative","scale":{"domain":[-6.1,6.815],"nice":false,"zero":false},"axis":null},
"x2":{"datum":0},"y2":{"datum":0}}},
{"data":{"name":"rticks"},
"transform":[{"lookup":"axis","from":{"data":{"name":"raxes"},"key":"axis","fields":["ang","c0","st"]}},{"calculate":"(datum.v-datum.c0)/datum.st","as":"r"},{"calculate":"datum.r*cos(datum.ang*PI/180)","as":"rx"},{"calculate":"datum.r*sin(datum.ang*PI/180)","as":"ry"}],
"mark":{"type":"text","align":"left","baseline":"bottom","dx":1,"fontSize":11.5},
"encoding":{"x":{"field":"rx","type":"quantitative","scale":{"domain":[-4.9,6.8],"nice":false,"zero":false},"axis":null},
"y":{"field":"ry","type":"quantitative","scale":{"domain":[-6.1,6.815],"nice":false,"zero":false},"axis":null},
"text":{"field":"v","type":"quantitative","format":".1f"}}},
{"data":{"name":"rvals"},
"transform":[{"filter":"datum.model==='BT-SETTL'"},{"lookup":"axis","from":{"data":{"name":"raxes"},"key":"axis","fields":["ang","c0","st"]}},{"calculate":"(datum.v-datum.c0)/datum.st","as":"r"},{"calculate":"datum.r*cos(datum.ang*PI/180)","as":"rx"},{"calculate":"datum.r*sin(datum.ang*PI/180)","as":"ry"}],
"mark":{"type":"line","interpolate":"linear-closed","color":"#FF4500","opacity":0.2,"strokeWidth":7},
"encoding":{"x":{"field":"rx","type":"quantitative","scale":{"domain":[-4.9,6.8],"nice":false,"zero":false},"axis":null},
"y":{"field":"ry","type":"quantitative","scale":{"domain":[-6.1,6.815],"nice":false,"zero":false},"axis":null},
"order":{"field":"o","type":"quantitative"}}},
{"data":{"name":"rvals"},
"transform":[{"lookup":"axis","from":{"data":{"name":"raxes"},"key":"axis","fields":["ang","c0","st"]}},{"calculate":"(datum.v-datum.c0)/datum.st","as":"r"},{"calculate":"datum.r*cos(datum.ang*PI/180)","as":"rx"},{"calculate":"datum.r*sin(datum.ang*PI/180)","as":"ry"}],
"mark":{"type":"line","interpolate":"linear-closed","strokeWidth":1.8},
"encoding":{"x":{"field":"rx","type":"quantitative","scale":{"domain":[-4.9,6.8],"nice":false,"zero":false},"axis":null},
"y":{"field":"ry","type":"quantitative","scale":{"domain":[-6.1,6.815],"nice":false,"zero":false},"axis":null},
"color":{"field":"model","type":"nominal","scale":{"domain":["BT-SETTL","ATMO","SONORA","BT-SETTL+C/O","EXO-REM"],"range":["#FF4500","#FF8C00","#3CB371","#6495ED","#9370DB"]},"legend":null},
"order":{"field":"o","type":"quantitative"}}},
{"data":{"name":"rvals"},
"transform":[{"lookup":"axis","from":{"data":{"name":"raxes"},"key":"axis","fields":["ang","c0","st"]}},{"calculate":"(datum.v-datum.c0)/datum.st","as":"r"},{"calculate":"datum.r*cos(datum.ang*PI/180)","as":"rx"},{"calculate":"datum.r*sin(datum.ang*PI/180)","as":"ry"}],
"mark":{"type":"circle","size":45,"opacity":1},
"encoding":{"x":{"field":"rx","type":"quantitative","scale":{"domain":[-4.9,6.8],"nice":false,"zero":false},"axis":null},
"y":{"field":"ry","type":"quantitative","scale":{"domain":[-6.1,6.815],"nice":false,"zero":false},"axis":null},
"color":{"field":"model","type":"nominal","scale":{"domain":["BT-SETTL","ATMO","SONORA","BT-SETTL+C/O","EXO-REM"],"range":["#FF4500","#FF8C00","#3CB371","#6495ED","#9370DB"]},"legend":null}}},
{"data":{"name":"rlit"},
"transform":[{"lookup":"axis","from":{"data":{"name":"raxes"},"key":"axis","fields":["ang","c0","st"]}},{"calculate":"(datum.v-datum.c0)/datum.st","as":"r"},{"calculate":"datum.r*cos(datum.ang*PI/180)","as":"rx"},{"calculate":"datum.r*sin(datum.ang*PI/180)","as":"ry"}],
"mark":{"type":"point","shape":"M-1,-1L1,1M-1,1L1,-1","size":256,"filled":false,"color":"black","strokeWidth":1.3,"opacity":1},
"encoding":{"x":{"field":"rx","type":"quantitative","scale":{"domain":[-4.9,6.8],"nice":false,"zero":false},"axis":null},
"y":{"field":"ry","type":"quantitative","scale":{"domain":[-6.1,6.815],"nice":false,"zero":false},"axis":null}}},
{"data":{"values":[{}]},"mark":{"type":"text","align":"left","baseline":"alphabetic","fontSize":14,"fontWeight":"bold"},
"encoding":{"x":{"datum":-4.25,"type":"quantitative","scale":{"domain":[-4.9,6.8],"nice":false,"zero":false},"axis":null},
"y":{"datum":5.675,"type":"quantitative","scale":{"domain":[-6.1,6.815],"nice":false,"zero":false},"axis":null},"text":{"value":"T"}}},
{"data":{"values":[{}]},"mark":{"type":"text","align":"left","baseline":"alphabetic","fontSize":10,"fontStyle":"italic"},
"encoding":{"x":{"datum":-3.87,"type":"quantitative","scale":{"domain":[-4.9,6.8],"nice":false,"zero":false},"axis":null},
"y":{"datum":5.58,"type":"quantitative","scale":{"domain":[-6.1,6.815],"nice":false,"zero":false},"axis":null},"text":{"value":"eff"}}},
{"data":{"values":[{}]},"mark":{"type":"text","align":"left","baseline":"alphabetic","fontSize":14,"fontWeight":"bold"},
"encoding":{"x":{"datum":-3.29,"type":"quantitative","scale":{"domain":[-4.9,6.8],"nice":false,"zero":false},"axis":null},
"y":{"datum":5.675,"type":"quantitative","scale":{"domain":[-6.1,6.815],"nice":false,"zero":false},"axis":null},"text":{"value":"(K)"}}},
{"data":{"values":[{}]},"mark":{"type":"text","align":"left","baseline":"alphabetic","fontSize":13.5,"fontWeight":"bold"},
"encoding":{"x":{"datum":5.92,"type":"quantitative","scale":{"domain":[-4.9,6.8],"nice":false,"zero":false},"axis":null},
"y":{"datum":-0.09,"type":"quantitative","scale":{"domain":[-6.1,6.815],"nice":false,"zero":false},"axis":null},"text":{"value":"log(g)"}}},
{"data":{"values":[{}]},"mark":{"type":"text","align":"left","baseline":"alphabetic","fontSize":13.8,"fontWeight":"bold"},
"encoding":{"x":{"datum":-4.69,"type":"quantitative","scale":{"domain":[-4.9,6.8],"nice":false,"zero":false},"axis":null},
"y":{"datum":-6.01,"type":"quantitative","scale":{"domain":[-6.1,6.815],"nice":false,"zero":false},"axis":null},"text":{"value":"RV (km/s)"}}}
]}
],
"spacing":152,
"resolve":{"scale":{"color":"independent"}}
}
